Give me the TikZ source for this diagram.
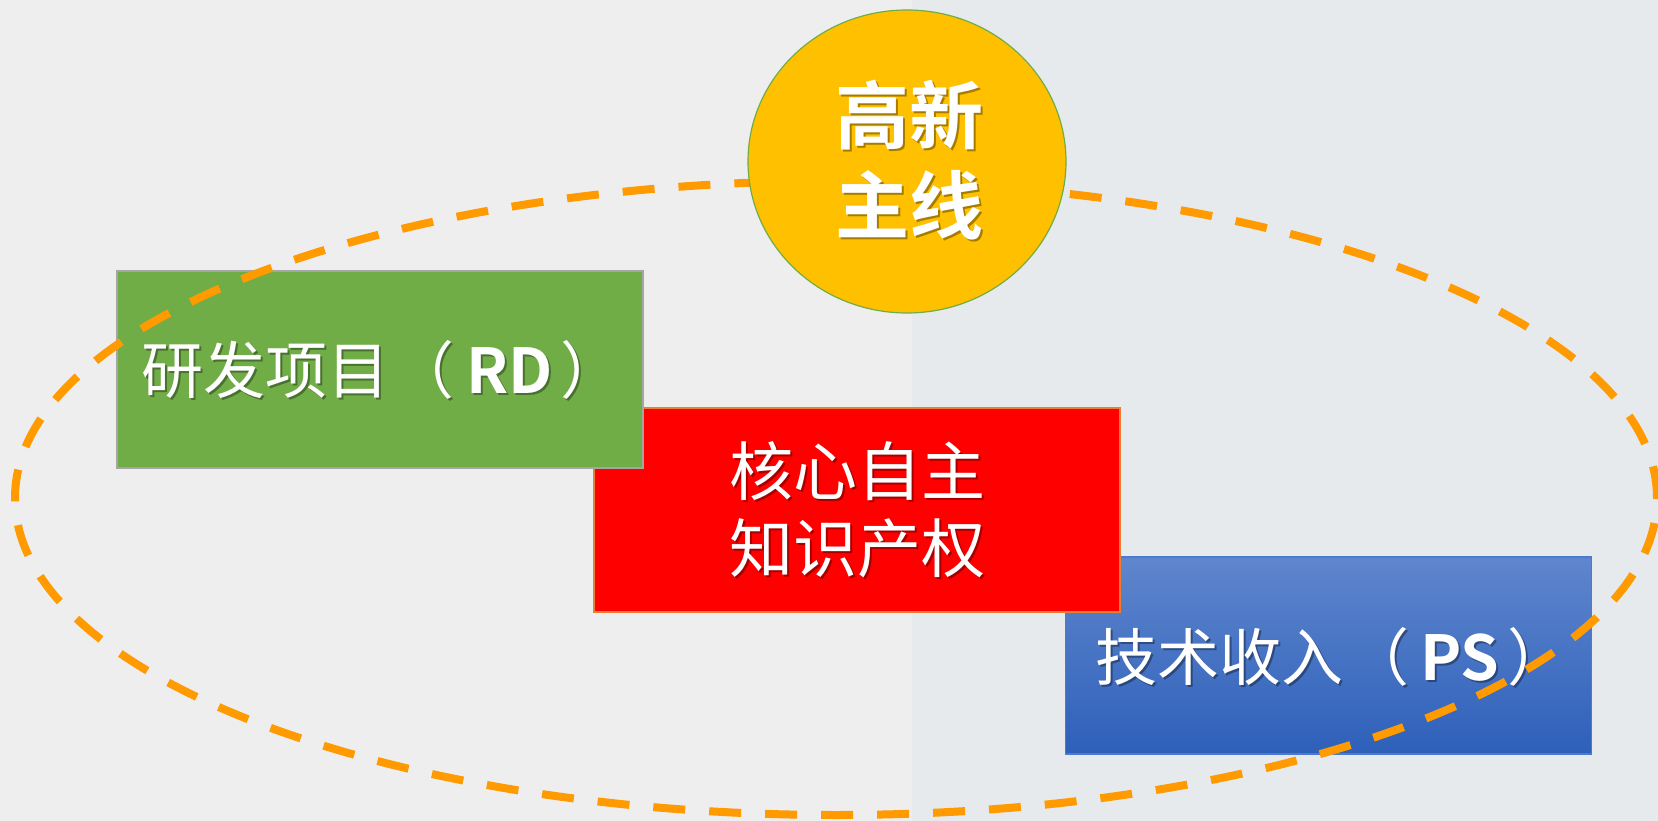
\documentclass[tikz,border=0pt]{standalone}
\usepackage{fontspec}
\usetikzlibrary{shapes.geometric}
\newfontfamily\cjk[BoldFont={Noto Sans CJK SC Bold}]{Noto Sans CJK SC}
\definecolor{bgL}{HTML}{EEEEEE}
\definecolor{bgR}{HTML}{E6EAED}
\definecolor{gfill}{HTML}{70AD47}
\definecolor{gline}{HTML}{A5A5A5}
\definecolor{rline}{HTML}{ED7D31}
\definecolor{btop}{HTML}{5F86CD}
\definecolor{bbot}{HTML}{2E60BA}
\definecolor{bline}{HTML}{4A7BD0}
\definecolor{yfill}{HTML}{FFC000}
\definecolor{orng}{HTML}{FF9A00}
\tikzset{
  boxnode/.style={draw, line width=1.2pt, inner sep=0pt, minimum width=526pt, minimum height=197pt},
  lbl/.style={text=white, align=center, inner sep=0pt},
  lblshadow/.style={text=black, opacity=0.35, align=center, inner sep=0pt},
  boxfont/.style={font=\cjk\fontsize{62}{72}\selectfont},
  redfont/.style={font=\cjk\fontsize{64}{77}\selectfont},
  circfont/.style={font=\cjk\bfseries\fontsize{74}{90}\selectfont},
  dashring/.style={draw=orng, line width=8pt, dash pattern={on 32pt off 24pt}},
}
\begin{document}
\begin{tikzpicture}[x=1pt,y=-1pt]
\useasboundingbox (0,0) rectangle (1658,821);
\fill[bgL] (0,0) rectangle (912,821);
\fill[bgR] (912,0) rectangle (1658,821);
% boxes
\node[boxnode, draw=bline, top color=btop, bottom color=bbot, minimum height=197pt] (ps) at (1328.5,655.5) {};
\node[boxnode, draw=rline, fill=red, minimum height=204pt] (ip) at (857,510) {};
\node[boxnode, draw=gline, fill=gfill, minimum height=197pt] (rd) at (380,369.5) {};
% labels
\node[lblshadow, boxfont, anchor=west] (rdS) at (143,372) {研发项目\kern3pt（\kern12pt\textbf{RD}\kern8pt）};
\node[lbl, boxfont, anchor=west] (rdT) at (141,370) {研发项目\kern3pt（\kern12pt\textbf{RD}\kern8pt）};
\node[lblshadow, redfont] (ipS) at (859,512) {核心自主\\知识产权};
\node[lbl, redfont] (ipT) at (857,510) {核心自主\\知识产权};
\node[lblshadow, boxfont, anchor=west] (psS) at (1097,659) {技术收入\kern4pt（\kern11pt\textbf{PS}\kern8pt）};
\node[lbl, boxfont, anchor=west] (psT) at (1095,657) {技术收入\kern4pt（\kern11pt\textbf{PS}\kern8pt）};
% dashed ring
\node[dashring, ellipse, minimum width=1642pt, minimum height=634pt, inner sep=0pt] (ring) at (836,498) {};
% circle
\node[draw=gfill, line width=1.2pt, fill=yfill, ellipse, minimum width=318pt, minimum height=303pt, inner sep=0pt] (hub) at (907,161.5) {};
\node[lblshadow, circfont] (hubS) at (911,162) {高新\\主线};
\node[lbl, circfont] (hubT) at (909,160) {高新\\主线};
\end{tikzpicture}
\end{document}
